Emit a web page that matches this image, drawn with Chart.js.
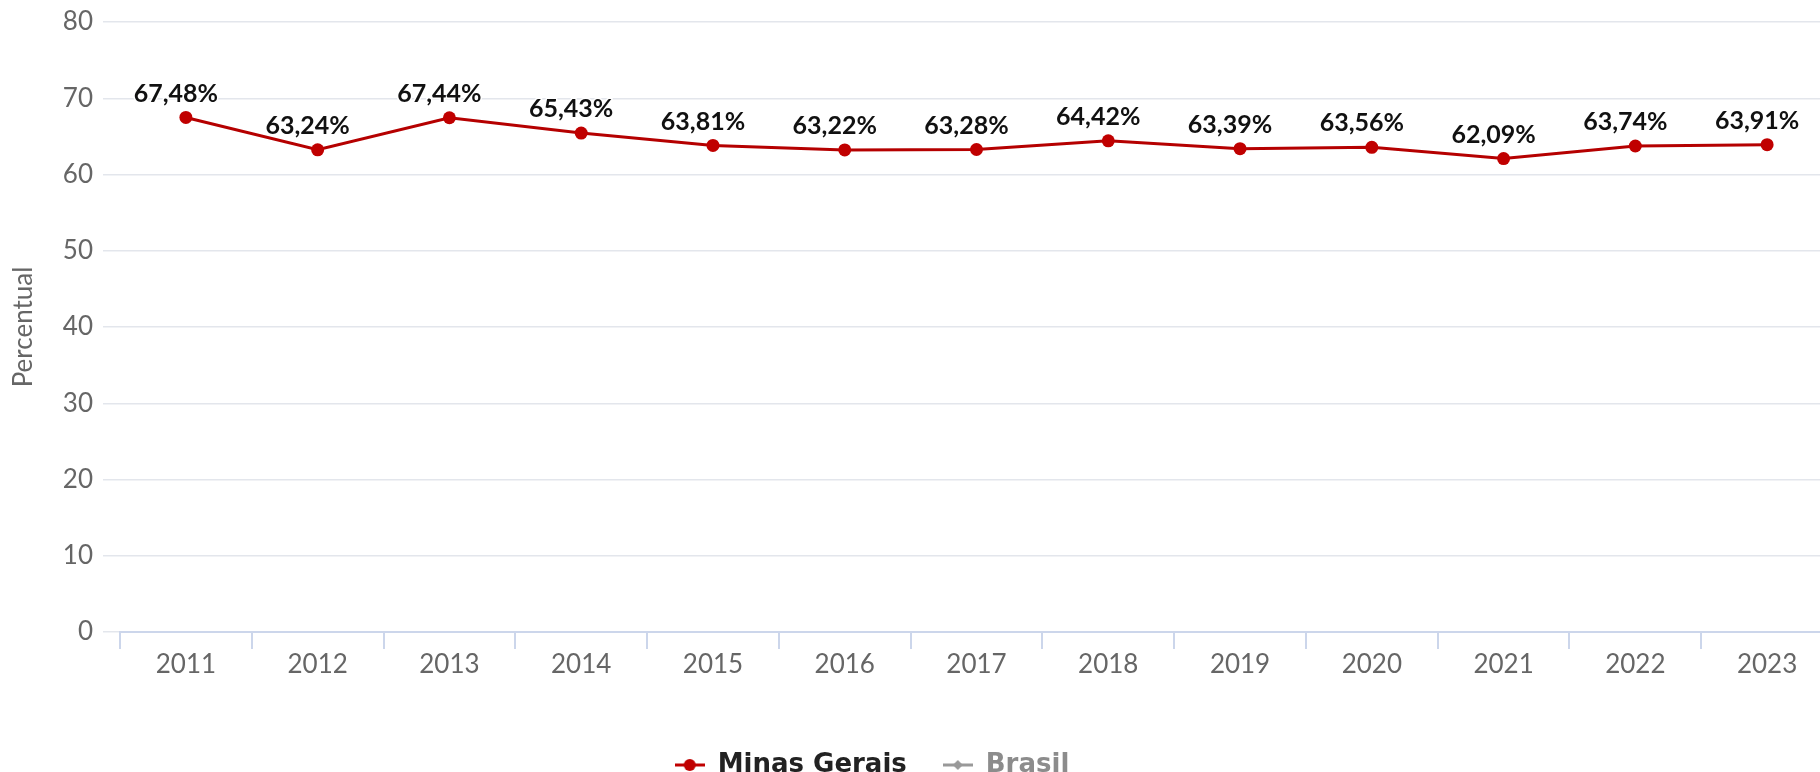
<!DOCTYPE html>
<html>
<head>
<meta charset="utf-8">
<script src="https://cdn.jsdelivr.net/npm/chart.js@4.4.1/dist/chart.umd.min.js"></script>
<style>
	html, body { margin: 0; padding: 0; background: #fff; overflow: hidden; }
	#wrap { position: relative; width: 1840px; height: 788px; }
</style>
</head>
<body>
<div id="wrap"><canvas id="chart"></canvas></div>
<script>
var years = ['2011', '2012', '2013', '2014', '2015', '2016', '2017', '2018', '2019', '2020', '2021', '2022', '2023'];
var minasGerais = [67.48, 63.24, 67.44, 65.43, 63.81, 63.22, 63.28, 64.42, 63.39, 63.56, 62.09, 63.74, 63.91];
var brasil = []; // serie oculta na legenda
var yTicks = [0, 10, 20, 30, 40, 50, 60, 70, 80];

var fontFamily = 'Lato, "Noto Sans", sans-serif';
var legendFont = '"DejaVu Sans", Lato, sans-serif';

function legendMarker(color, radius, diamond) {
	var c = document.createElement('canvas');
	c.width = 30;
	c.height = 16;
	var ctx = c.getContext('2d');
	ctx.strokeStyle = color;
	ctx.fillStyle = color;
	ctx.lineWidth = 3;
	ctx.beginPath();
	ctx.moveTo(0, 8);
	ctx.lineTo(30, 8);
	ctx.stroke();
	ctx.beginPath();
	if (diamond) {
		ctx.moveTo(15, 8 - radius);
		ctx.lineTo(15 + radius, 8);
		ctx.lineTo(15, 8 + radius);
		ctx.lineTo(15 - radius, 8);
		ctx.closePath();
	} else {
		ctx.arc(15, 8, radius, 0, Math.PI * 2);
	}
	ctx.fill();
	return c;
}

var markerMG = legendMarker('#c00000', 6, false);
var markerBR = legendMarker('#999999', 5, true);

// rotulos de valor acima dos pontos
var valueLabels = {
	id: 'valueLabels',
	afterDatasetsDraw: function(chart) {
		var ctx = chart.ctx;
		var meta = chart.getDatasetMeta(0);
		if (meta.hidden) return;
		ctx.save();
		ctx.font = 'bold 25px ' + fontFamily;
		ctx.textAlign = 'center';
		ctx.textBaseline = 'middle';
		ctx.lineJoin = 'round';
		meta.data.forEach(function(pt, i) {
			var txt = minasGerais[i].toFixed(2).replace('.', ',') + '%';
			ctx.strokeStyle = '#ffffff';
			ctx.lineWidth = 3;
			ctx.strokeText(txt, pt.x - 10, pt.y - 24);
			ctx.fillStyle = '#111111';
			ctx.fillText(txt, pt.x - 10, pt.y - 24);
		});
		ctx.restore();
	}
};

// desloca a legenda para a esquerda
var legendShift = {
	id: 'legendShift',
	afterLayout: function(chart) {
		if (chart.legend) {
			chart.legend.left -= 45;
			chart.legend.right -= 45;
		}
	}
};

var ctx = document.getElementById('chart').getContext('2d');
var chart = new Chart(ctx, {
	type: 'line',
	data: {
		labels: years,
		datasets: [{
			label: 'Minas Gerais',
			data: minasGerais,
			borderColor: '#b50000',
			backgroundColor: '#c00000',
			borderWidth: 3,
			pointRadius: 6.5,
			pointHoverRadius: 7,
			pointBackgroundColor: '#c00000',
			pointBorderWidth: 0,
			tension: 0
		}, {
			label: 'Brasil',
			data: brasil,
			hidden: true,
			borderColor: '#999999',
			backgroundColor: '#999999'
		}]
	},
	options: {
		responsive: true,
		maintainAspectRatio: false,
		animation: false,
		layout: {
			padding: { top: 22, right: 6, left: 0, bottom: 0 }
		},
		plugins: {
			tooltip: { enabled: false },
			legend: {
				position: 'bottom',
				labels: {
					usePointStyle: true,
					pointStyleWidth: 30,
					padding: 36,
					font: { family: legendFont, size: 26, weight: 'bold' },
					color: '#222222',
					generateLabels: function(chart) {
						return chart.data.datasets.map(function(ds, i) {
							var visible = chart.isDatasetVisible(i);
							return {
								text: ds.label,
								datasetIndex: i,
								hidden: false,
								fontColor: visible ? '#222222' : '#8c8c8c',
								pointStyle: i === 0 ? markerMG : markerBR,
								lineWidth: 0,
								strokeStyle: 'transparent',
								fillStyle: 'transparent'
							};
						});
					}
				}
			}
		},
		scales: {
			x: {
				offset: true,
				grid: {
					offset: true,
					drawOnChartArea: false,
					drawTicks: true,
					tickLength: 17,
					color: '#ccd6eb',
					lineWidth: 2
				},
				border: { display: true, color: '#ccd6eb', width: 2 },
				ticks: {
					color: '#666666',
					font: { family: fontFamily, size: 26 },
					padding: 0,
					maxRotation: 0
				},
				afterFit: function(scale) { scale.height = 84; }
			},
			y: {
				min: 0,
				max: 80,
				afterBuildTicks: function(scale) {
					scale.ticks = yTicks.map(function(v) { return { value: v }; });
				},
				grid: {
					color: '#e3e6ec',
					lineWidth: 1.5,
					drawTicks: true,
					tickLength: 17
				},
				border: { display: false },
				ticks: {
					color: '#666666',
					font: { family: fontFamily, size: 26 },
					padding: 10
				},
				title: {
					display: true,
					text: 'Percentual',
					color: '#666666',
					font: { family: fontFamily, size: 26 },
					padding: { top: 8, bottom: 0 }
				},
				afterFit: function(scale) {
					scale.width = 120;
					scale.paddingTop = 0;
					scale.paddingBottom = 0;
				}
			}
		}
	},
	plugins: [valueLabels, legendShift]
});
</script>
</body>
</html>
